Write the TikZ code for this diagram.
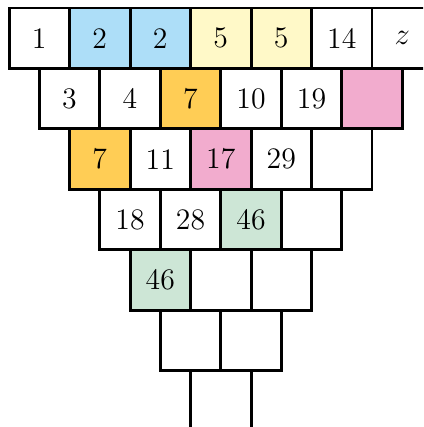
\documentclass[tikz,border=0pt]{standalone}
\usepackage{tikz}
\definecolor{cblue}{RGB}{173,222,248}
\definecolor{cyel}{RGB}{255,249,200}
\definecolor{corg}{RGB}{255,205,85}
\definecolor{cpink}{RGB}{242,172,206}
\definecolor{cgrn}{RGB}{205,230,214}
\tikzset{
  cl/.style={rectangle,draw=black,fill=white,line width=1.4pt,minimum size=1cm,inner sep=0pt,
    font=\fontsize{14}{16}\selectfont},
  cb/.style={cl,fill=cblue},
  cy/.style={cl,fill=cyel},
  co/.style={cl,fill=corg},
  cp/.style={cl,fill=cpink},
  cg/.style={cl,fill=cgrn},
}
\begin{document}
\begin{tikzpicture}
\useasboundingbox (-0.149,0.132) rectangle (6.843,-6.926);
\clip (-0.149,0.132) rectangle (6.843,-6.926);
% ---------------- top row
\node[cl] (a1) at (0.5,-0.5) {1}; \node[cb] (a2) at (1.5,-0.5) {2};
\node[cb] (a3) at (2.5,-0.5) {2}; \node[cy] (a4) at (3.5,-0.5) {5};
\node[cy] (a5) at (4.5,-0.5) {5}; \node[cl] (a6) at (5.5,-0.5) {14};
\node[cl] (a7) at (6.5,-0.5) {$z$};
% ---------------- each row sits half a cell to the right
\node[cl] (b1) at (1,-1.5) {3};  \node[cl] (b2) at (2,-1.5) {4};
\node[co] (b3) at (3,-1.5) {7};  \node[cl] (b4) at (4,-1.5) {10};
\node[cl] (b5) at (5,-1.5) {19}; \node[cp] (b6) at (6,-1.5) {};
\node[co] (c1) at (1.5,-2.5) {7};  \node[cl] (c2) at (2.5,-2.5) {11};
\node[cp] (c3) at (3.5,-2.5) {17}; \node[cl] (c4) at (4.5,-2.5) {29};
\node[cl] (c5) at (5.5,-2.5) {};
\node[cl] (d1) at (2,-3.5) {18}; \node[cl] (d2) at (3,-3.5) {28};
\node[cg] (d3) at (4,-3.5) {46}; \node[cl] (d4) at (5,-3.5) {};
\node[cg] (e1) at (2.5,-4.5) {46}; \node[cl] (e2) at (3.5,-4.5) {};
\node[cl] (e3) at (4.5,-4.5) {};
\node[cl] (f1) at (3,-5.5) {}; \node[cl] (f2) at (4,-5.5) {};
\node[cl] (g1) at (3.5,-6.5) {};
\end{tikzpicture}
\end{document}
